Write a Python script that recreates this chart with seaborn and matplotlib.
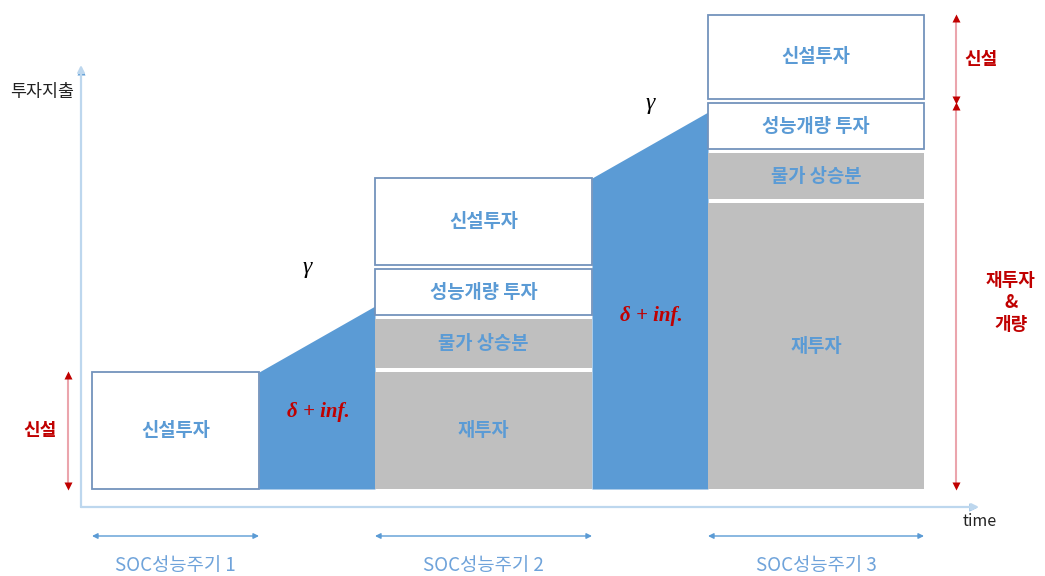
import numpy as np
import matplotlib
matplotlib.use("Agg")
import matplotlib.pyplot as plt
import seaborn as sns

# ---- data -------------------------------------------------------------
cycle_labels = ["SOC성능주기 1", "SOC성능주기 2", "SOC성능주기 3"]
cycle_lengths = [167, 217, 216]          # duration of each performance cycle
transition_length = 116                  # time between cycles
time_origin = 92

segment_names = ["재투자", "물가 상승분", "성능개량 투자", "신설투자"]
# stacked investment per cycle (bottom -> top); None = not present
cycle1_values = [None, None, None, 117]
cycle2_values = [117, 53, 50, 91]
cycle3_values = [286, 50, 50, 88]
gamma_rise = 66                          # growth during each transition

y_axis_label = "투자지출"
x_axis_label = "time"
gamma_label = "γ"
depreciation_label = "δ + inf."

# ---- styling ----------------------------------------------------------
sns.set_theme(style="white")
plt.rcParams["font.family"] = ["Noto Sans CJK KR", "DejaVu Sans"]

BLUE = "#5B9BD5"
LIGHT_BLUE = "#BDD7EE"
GREY = "#BFBFBF"
EDGE = "#7393BC"
RED = "#C00000"
PINK = "#EBA5AD"
GAP = 4

fig = plt.figure(figsize=(10.45, 5.76), dpi=100)
ax = fig.add_axes([0, 0, 1, 1])
ax.set_xlim(0, 1045)
ax.set_ylim(-87, 489)
ax.axis("off")

# cycle x-positions
starts, ends = [], []
x = time_origin
for i, L in enumerate(cycle_lengths):
    starts.append(x)
    ends.append(x + L)
    x += L + transition_length

all_values = [cycle1_values, cycle2_values, cycle3_values]
totals = [sum(v for v in vals if v is not None) for vals in all_values]

# ---- stacked boxes ----------------------------------------------------
seg_style = {
    "재투자": dict(color=GREY, edgecolor="none", lw=0),
    "물가 상승분": dict(color=GREY, edgecolor="none", lw=0),
    "성능개량 투자": dict(color="white", edgecolor=EDGE, lw=1.3),
    "신설투자": dict(color="white", edgecolor=EDGE, lw=1.3),
}
segment_spans = []
for ci, vals in enumerate(all_values):
    bottom = 0
    spans = {}
    first = True
    for name, v in zip(segment_names, vals):
        if v is None:
            continue
        gap = 0 if first else GAP
        first = False
        h = v - gap
        b = bottom + gap
        ax.bar(starts[ci], h, width=cycle_lengths[ci], bottom=b, align="edge",
               zorder=2, **seg_style[name])
        ax.text(starts[ci] + cycle_lengths[ci] / 2, b + h / 2, name,
                ha="center", va="center", color=BLUE, fontsize=13.5,
                fontweight="bold", zorder=3)
        spans[name] = (bottom, bottom + v)
        bottom += v
    segment_spans.append(spans)

# ---- transitions (growth wedges) --------------------------------------
gamma_offsets = [38, 9]
delta_heights = [77, 173]
for ti in range(2):
    x0, x1 = ends[ti], starts[ti + 1]
    xs = np.array([x0, x1])
    top = np.array([totals[ti], totals[ti] + gamma_rise])
    ax.fill_between(xs, 0, top, color=BLUE, lw=0, zorder=1)
    ax.text((x0 + x1) / 2 - 10 + ti * 10, top[1] + gamma_offsets[ti], gamma_label,
            ha="center", va="center", fontsize=17, style="italic",
            family="Liberation Serif", color="black")
    ax.text((x0 + x1) / 2 + 1, delta_heights[ti], depreciation_label,
            ha="center", va="center", fontsize=15, style="italic",
            fontweight="bold", family="Liberation Serif", color=RED, zorder=3)

# ---- axes arrows ------------------------------------------------------
ax.annotate("", xy=(81, 424), xytext=(81, -18),
            arrowprops=dict(arrowstyle="-|>", color=LIGHT_BLUE, lw=1.6,
                            mutation_scale=10, shrinkA=0, shrinkB=0))
ax.annotate("", xy=(979, -18), xytext=(81, -18),
            arrowprops=dict(arrowstyle="-|>", color=LIGHT_BLUE, lw=1.6,
                            mutation_scale=10, shrinkA=0, shrinkB=0))
ax.plot([81], [418], marker="^", color=BLUE, ms=6, mec="none")
ax.plot([973], [-18], marker=">", color=BLUE, ms=6, mec="none")
ax.text(42, 397, y_axis_label, ha="center", va="center", fontsize=12.5,
        color="#222222")
ax.text(980, -33, x_axis_label, ha="center", va="center", fontsize=11.5,
        color="#222222")

# ---- cycle span arrows -----------------------------------------------
for ci, lab in enumerate(cycle_labels):
    ax.annotate("", xy=(starts[ci], -47), xytext=(ends[ci], -47),
                arrowprops=dict(arrowstyle="<|-|>", color=BLUE, lw=1,
                                mutation_scale=8, shrinkA=0, shrinkB=0))
    ax.text(starts[ci] + cycle_lengths[ci] / 2, -77, lab, ha="center",
            va="center", fontsize=13.5, color="#6FA3DA")


# ---- red brackets -----------------------------------------------------
def bracket(xpos, y0, y1, label, lx, ly=None):
    ax.plot([xpos, xpos], [y0 + 3, y1 - 3], color=PINK, lw=1.5, zorder=1)
    ax.plot([xpos], [y1 - 3], marker="^", color=RED, ms=5.5, mec="none")
    ax.plot([xpos], [y0 + 3], marker="v", color=RED, ms=5.5, mec="none")
    ax.text(lx, (y0 + y1) / 2 if ly is None else ly, label, ha="center",
            va="center", fontsize=13, fontweight="bold", color=RED,
            linespacing=1.2)


b0, b1 = segment_spans[0]["신설투자"]
bracket(68, b0, b1, "신설", 40)
n0, n1 = segment_spans[2]["신설투자"]
bracket(956, n0, n1, "신설", 981)
bracket(956, 0, n0, "재투자\n&\n개량", 1011, ly=186)

fig.savefig("out.png", dpi=100)
